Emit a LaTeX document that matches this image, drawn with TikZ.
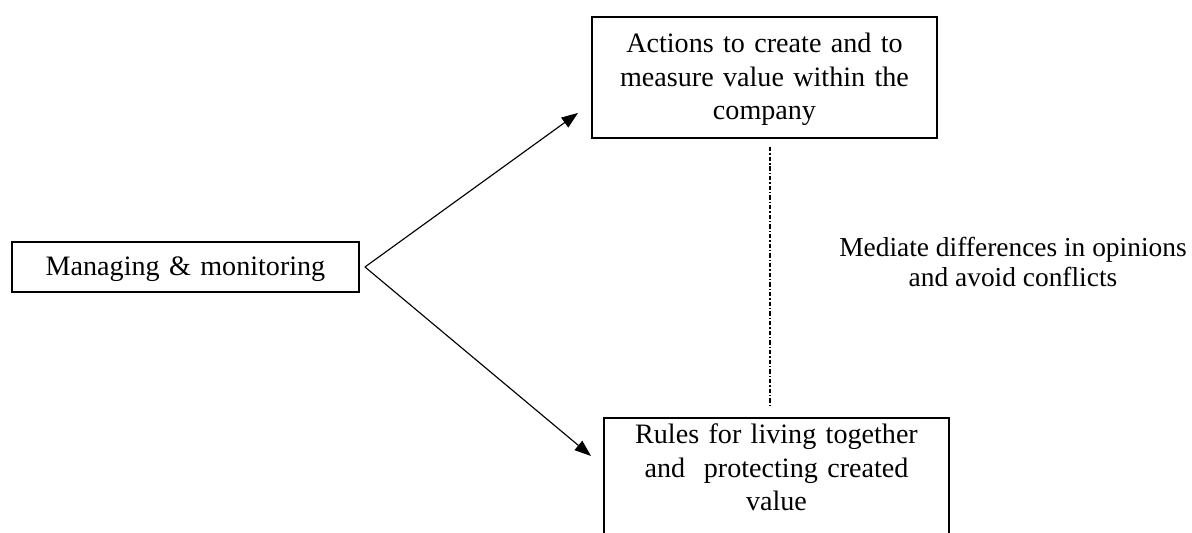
\documentclass[tikz,border=0pt]{standalone}
\usepackage{fontspec}
\setmainfont{Liberation Serif}
\usetikzlibrary{arrows.meta}

\begin{document}
\begin{tikzpicture}[
    box/.style={draw, line width=1.1pt, anchor=north, inner sep=0pt,
      align=center, font=\fontsize{16}{19}\selectfont},
    flow/.style={line width=0.65pt, -{Triangle[length=0.33cm, width=0.24cm]}},
    mediline/.style={line width=1.1pt,
      dash pattern=on 2.6pt off 1pt on 0.9pt off 1pt}]

\useasboundingbox (0,0) rectangle (23.84,-10.66);

% ---- the three boxes ----
\node[box, text width=6.94cm, text height=0.68cm, text depth=0.32cm]
    (manage) at (3.71,-4.82) {Managing \& monitoring};
\node[box, text width=6.9cm, text height=0.72cm, text depth=1.7cm]
    (actions) at (15.29,-0.32)
    {Actions to create and to\\ measure value within the\\ company};
\node[box, text width=6.9cm, text height=0.52cm, text depth=2.2cm]
    (rules) at (15.53,-8.34)
    {Rules for living together\\ and\ \ protecting created\\ value};

\node[align=center, font=\fontsize{15.6}{16.6}\selectfont]
    (mediate) at (20.26,-5.24)
    {Mediate differences in opinions\\ and avoid conflicts};

% ---- connectors ----
\draw[flow] ([xshift=0.1cm]manage.east) -- ([shift={(-0.26,0.52)}]actions.south west);
\draw[flow] ([xshift=0.1cm]manage.east) -- ([shift={(-0.24,-0.78)}]rules.north west);

\draw[mediline, shorten <=0.16cm, shorten >=0.2cm]
    ([xshift=0.11cm]actions.south) -- ([xshift=0.11cm]actions.south |- rules.north);

\end{tikzpicture}
\end{document}
